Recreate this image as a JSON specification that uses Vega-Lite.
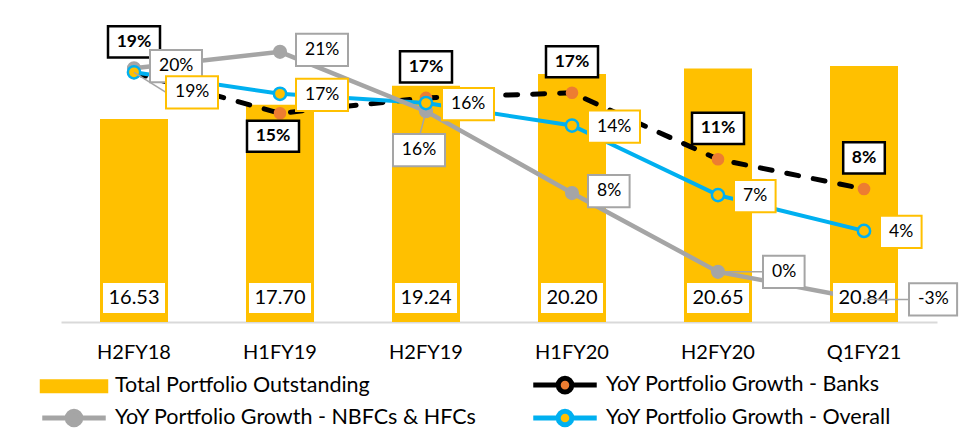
{
  "$schema": "https://vega.github.io/schema/vega-lite/v6.json",
  "width": 876,
  "height": 307,
  "autosize": {"type": "none"},
  "padding": {"left": 61, "top": 15, "right": 35, "bottom": 125},
  "background": "white",
  "config": {
    "view": {"stroke": null},
    "font": "Lato",
    "axisX": {"domainColor": "#D9D9D9", "domainWidth": 2, "ticks": false, "labelFontSize": 20, "labelFont": "Lato", "labelColor": "#000000", "labelPadding": 20, "labelAngle": 0, "title": null, "grid": false},
    "legend": {"orient": "none", "legendX": -1, "legendY": 356, "columns": 2, "columnPadding": 46, "rowPadding": -1, "labelOffset": 27, "labelLimit": 0, "labelFontSize": 21.5, "labelFont": "Lato", "labelColor": "#000000", "symbolSize": 514, "symbolStrokeWidth": 5, "padding": 0}
  },
  "datasets": {
    "bars": [
      {"period": "H2FY18", "total": 16.53, "label": "16.53"},
      {"period": "H1FY19", "total": 17.70, "label": "17.70"},
      {"period": "H2FY19", "total": 19.24, "label": "19.24"},
      {"period": "H1FY20", "total": 20.20, "label": "20.20"},
      {"period": "H2FY20", "total": 20.65, "label": "20.65"},
      {"period": "Q1FY21", "total": 20.84, "label": "20.84"}
    ],
    "growth": [
      {"period": "H2FY18", "series": "Banks", "value": 19.35, "label": "19%"},
      {"period": "H1FY19", "series": "Banks", "value": 15.4, "label": "15%"},
      {"period": "H2FY19", "series": "Banks", "value": 16.9, "label": "17%"},
      {"period": "H1FY20", "series": "Banks", "value": 17.4, "label": "17%"},
      {"period": "H2FY20", "series": "Banks", "value": 10.9, "label": "11%"},
      {"period": "Q1FY21", "series": "Banks", "value": 8.0, "label": "8%"},
      {"period": "H2FY18", "series": "NBFC", "value": 19.8, "label": "20%"},
      {"period": "H1FY19", "series": "NBFC", "value": 21.4, "label": "21%"},
      {"period": "H2FY19", "series": "NBFC", "value": 15.6, "label": "16%"},
      {"period": "H1FY20", "series": "NBFC", "value": 7.6, "label": "8%"},
      {"period": "H2FY20", "series": "NBFC", "value": -0.1, "label": "0%"},
      {"period": "Q1FY21", "series": "NBFC", "value": -2.8, "label": "-3%"},
      {"period": "H2FY18", "series": "Overall", "value": 19.4, "label": "19%"},
      {"period": "H1FY19", "series": "Overall", "value": 17.3, "label": "17%"},
      {"period": "H2FY19", "series": "Overall", "value": 16.4, "label": "16%"},
      {"period": "H1FY20", "series": "Overall", "value": 14.2, "label": "14%"},
      {"period": "H2FY20", "series": "Overall", "value": 7.4, "label": "7%"},
      {"period": "Q1FY21", "series": "Overall", "value": 3.9, "label": "4%"}
    ],
    "legendrows": [
      {"series": "Total Portfolio Outstanding"},
      {"series": "YoY Portfolio Growth - NBFCs & HFCs"},
      {"series": "YoY Portfolio Growth - Banks"},
      {"series": "YoY Portfolio Growth - Overall"}
    ]
  },
  "resolve": {"scale": {"y": "independent"}},
  "layer": [
    {
      "data": {"name": "bars"},
      "mark": {"type": "bar", "color": "#FFC000", "width": 68},
      "encoding": {
        "x": {"field": "period", "type": "nominal", "sort": null, "scale": {"type": "band", "domain": ["H2FY18", "H1FY19", "H2FY19", "H1FY20", "H2FY20", "Q1FY21"], "paddingInner": 0.1, "paddingOuter": 0.05}, "title": null},
        "y": {"field": "total", "type": "quantitative", "scale": {"domain": [0, 25]}, "axis": null}
      }
    },
    {
      "data": {"name": "growth"},
      "encoding": {
        "x": {"field": "period", "type": "nominal", "sort": null, "scale": {"type": "band", "domain": ["H2FY18", "H1FY19", "H2FY19", "H1FY20", "H2FY20", "Q1FY21"], "paddingInner": 0.1, "paddingOuter": 0.05}, "title": null},
        "y": {"field": "value", "type": "quantitative", "scale": {"domain": [-5, 25]}, "axis": null}
      },
      "layer": [
        {"transform": [{"filter": "datum.series=='Banks'"}], "mark": {"type": "line", "color": "#000000", "strokeWidth": 5, "strokeDash": [12, 15], "strokeCap": "round"}},
        {"transform": [{"filter": "datum.series=='Overall'"}], "mark": {"type": "line", "color": "#00B0F0", "strokeWidth": 4}},
        {"transform": [{"filter": "datum.series=='NBFC'"}], "mark": {"type": "line", "color": "#A5A5A5", "strokeWidth": 4.5}},
        {"transform": [{"filter": "datum.series=='Banks'"}], "mark": {"type": "point", "shape": "circle", "filled": true, "fill": "#ED7D31", "size": 160, "opacity": 1}},
        {"transform": [{"filter": "datum.series=='NBFC'"}], "mark": {"type": "point", "shape": "circle", "filled": true, "fill": "#A5A5A5", "size": 200, "opacity": 1}},
        {"transform": [{"filter": "datum.series=='Overall'"}], "mark": {"type": "point", "shape": "circle", "filled": true, "fill": "#FFC000", "stroke": "#00B0F0", "strokeWidth": 2.5, "size": 150, "opacity": 1}}
      ]
    },
    {
      "data": {"name": "bars"},
      "encoding": {
        "x": {"field": "period", "type": "nominal", "sort": null, "scale": {"type": "band", "domain": ["H2FY18", "H1FY19", "H2FY19", "H1FY20", "H2FY20", "Q1FY21"], "paddingInner": 0.1, "paddingOuter": 0.05}, "title": null},
        "y": {"datum": 0, "type": "quantitative", "scale": {"domain": [0, 25]}, "axis": null}
      },
      "layer": [
        {"mark": {"type": "point", "shape": "M-1,-0.48H1V0.48H-1Z", "size": 3844, "filled": true, "fill": "#FFFFFF", "opacity": 1, "yOffset": -24}},
        {"mark": {"type": "text", "fontSize": 20, "font": "Lato", "color": "#000000", "baseline": "middle", "align": "center", "yOffset": -24}, "encoding": {"text": {"field": "label"}}}
      ]
    },
    {
      "data": {"name": "growth"},
      "encoding": {
        "x": {"field": "period", "type": "nominal", "sort": null, "scale": {"type": "band", "domain": ["H2FY18", "H1FY19", "H2FY19", "H1FY20", "H2FY20", "Q1FY21"], "paddingInner": 0.1, "paddingOuter": 0.05}, "title": null},
        "y": {"field": "value", "type": "quantitative", "scale": {"domain": [-5, 25]}, "axis": null}
      },
      "layer": [
        {"transform": [{"filter": "datum.series=='Overall' && datum.period=='H2FY18'"}], "mark": {"type": "rule", "color": "#A5A5A5", "strokeWidth": 1.5, "x2Offset": 32, "y2Offset": 20}, "encoding": {"x2": {"field": "period"}, "y2": {"field": "value"}}},
        {"transform": [{"filter": "datum.series=='NBFC' && datum.period=='H2FY19'"}], "mark": {"type": "rule", "color": "#A5A5A5", "strokeWidth": 1.5, "x2Offset": -6, "y2Offset": 23}, "encoding": {"x2": {"field": "period"}, "y2": {"field": "value"}}},
        {"transform": [{"filter": "datum.series=='NBFC' && (datum.period=='H2FY20' || datum.period=='Q1FY21')"}], "mark": {"type": "rule", "color": "#A5A5A5", "strokeWidth": 1.5, "x2Offset": 45, "y2Offset": 0}, "encoding": {"x2": {"field": "period"}, "y2": {"field": "value"}}},

        {"transform": [{"filter": "datum.series=='Banks' && datum.period!='H1FY19'"}], "mark": {"type": "point", "size": 2704, "filled": true, "fill": "#FFFFFF", "stroke": "#000000", "strokeWidth": 2.5, "opacity": 1, "yOffset": -31}, "encoding": {"shape": {"condition": {"test": "length(datum.label) < 3", "value": "M-0.8,-0.6H0.8V0.6H-0.8Z"}, "value": "M-1,-0.6H1V0.6H-1Z"}}},
        {"transform": [{"filter": "datum.series=='Banks' && datum.period!='H1FY19'"}], "mark": {"type": "text", "fontSize": 17.5, "fontWeight": "bold", "font": "Lato", "color": "#000000", "baseline": "middle", "align": "center", "yOffset": -31}, "encoding": {"text": {"field": "label"}}},
        {"transform": [{"filter": "datum.series=='Banks' && datum.period=='H1FY19'"}], "mark": {"type": "point", "size": 2704, "filled": true, "fill": "#FFFFFF", "stroke": "#000000", "strokeWidth": 2.5, "opacity": 1, "xOffset": -7, "yOffset": 23, "shape": "M-1,-0.6H1V0.6H-1Z"}},
        {"transform": [{"filter": "datum.series=='Banks' && datum.period=='H1FY19'"}], "mark": {"type": "text", "fontSize": 17.5, "fontWeight": "bold", "font": "Lato", "color": "#000000", "baseline": "middle", "align": "center", "xOffset": -7, "yOffset": 23}, "encoding": {"text": {"field": "label"}}},

        {"transform": [{"filter": "datum.series=='NBFC' && (datum.period=='H2FY18' || datum.period=='H1FY19' || datum.period=='H1FY20')"}], "mark": {"type": "point", "size": 2704, "filled": true, "fill": "#FFFFFF", "stroke": "#A5A5A5", "strokeWidth": 2, "opacity": 1, "xOffset": 42, "yOffset": -2}, "encoding": {"shape": {"condition": {"test": "length(datum.label) < 3", "value": "M-1,-0.62H0.6V0.62H-1Z"}, "value": "M-1,-0.62H1V0.62H-1Z"}}},
        {"transform": [{"filter": "datum.series=='NBFC' && (datum.period=='H2FY18' || datum.period=='H1FY19' || datum.period=='H1FY20')"}], "mark": {"type": "text", "fontSize": 17.5, "font": "Lato", "color": "#000000", "baseline": "middle", "align": "left", "xOffset": 25, "yOffset": -2}, "encoding": {"text": {"field": "label"}}},
        {"transform": [{"filter": "datum.series=='NBFC' && datum.period=='H2FY19'"}], "mark": {"type": "point", "size": 2704, "filled": true, "fill": "#FFFFFF", "stroke": "#A5A5A5", "strokeWidth": 2, "opacity": 1, "xOffset": -7, "yOffset": 39, "shape": "M-1,-0.62H1V0.62H-1Z"}},
        {"transform": [{"filter": "datum.series=='NBFC' && datum.period=='H2FY19'"}], "mark": {"type": "text", "fontSize": 17.5, "font": "Lato", "color": "#000000", "baseline": "middle", "align": "center", "xOffset": -7, "yOffset": 39}, "encoding": {"text": {"field": "label"}}},
        {"transform": [{"filter": "datum.series=='NBFC' && (datum.period=='H2FY20' || datum.period=='Q1FY21')"}], "mark": {"type": "point", "size": 2704, "filled": true, "fill": "#FFFFFF", "stroke": "#A5A5A5", "strokeWidth": 2, "opacity": 1, "xOffset": 71, "yOffset": 0}, "encoding": {"shape": {"condition": {"test": "length(datum.label) < 3", "value": "M-1,-0.62H0.6V0.62H-1Z"}, "value": "M-1,-0.62H0.85V0.62H-1Z"}}},
        {"transform": [{"filter": "datum.series=='NBFC' && (datum.period=='H2FY20' || datum.period=='Q1FY21')"}], "mark": {"type": "text", "fontSize": 17.5, "font": "Lato", "color": "#000000", "baseline": "middle", "align": "left", "xOffset": 54, "yOffset": 0}, "encoding": {"text": {"field": "label"}}},

        {"transform": [{"filter": "datum.series=='Overall' && datum.period!='H2FY18'"}], "mark": {"type": "point", "size": 2704, "filled": true, "fill": "#FFFFFF", "stroke": "#FFC000", "strokeWidth": 2, "opacity": 1, "xOffset": 42, "yOffset": 1}, "encoding": {"shape": {"condition": {"test": "length(datum.label) < 3", "value": "M-1,-0.62H0.6V0.62H-1Z"}, "value": "M-1,-0.62H1V0.62H-1Z"}}},
        {"transform": [{"filter": "datum.series=='Overall' && datum.period!='H2FY18'"}], "mark": {"type": "text", "fontSize": 17.5, "font": "Lato", "color": "#000000", "baseline": "middle", "align": "left", "xOffset": 25, "yOffset": 1}, "encoding": {"text": {"field": "label"}}},
        {"transform": [{"filter": "datum.series=='Overall' && datum.period=='H2FY18'"}], "mark": {"type": "point", "size": 2704, "filled": true, "fill": "#FFFFFF", "stroke": "#FFC000", "strokeWidth": 2, "opacity": 1, "xOffset": 58, "yOffset": 20, "shape": "M-1,-0.62H1V0.62H-1Z"}},
        {"transform": [{"filter": "datum.series=='Overall' && datum.period=='H2FY18'"}], "mark": {"type": "text", "fontSize": 17.5, "font": "Lato", "color": "#000000", "baseline": "middle", "align": "left", "xOffset": 41, "yOffset": 20}, "encoding": {"text": {"field": "label"}}}
      ]
    },
    {
      "data": {"name": "legendrows"},
      "transform": [{"filter": "false"}],
      "mark": {"type": "point", "filled": true, "opacity": 1, "size": 514, "strokeWidth": 5},
      "encoding": {
        "fill": {"field": "series", "type": "nominal", "title": null, "scale": {"domain": ["Total Portfolio Outstanding", "YoY Portfolio Growth - NBFCs & HFCs", "YoY Portfolio Growth - Banks", "YoY Portfolio Growth - Overall"], "range": ["#FFC000", "#A5A5A5", "#ED7D31", "#FFC000"]}},
        "stroke": {"field": "series", "type": "nominal", "title": null, "scale": {"domain": ["Total Portfolio Outstanding", "YoY Portfolio Growth - NBFCs & HFCs", "YoY Portfolio Growth - Banks", "YoY Portfolio Growth - Overall"], "range": ["#FFC000", "#A5A5A5", "#000000", "#00B0F0"]}},
        "shape": {"field": "series", "type": "nominal", "title": null, "scale": {"domain": ["Total Portfolio Outstanding", "YoY Portfolio Growth - NBFCs & HFCs", "YoY Portfolio Growth - Banks", "YoY Portfolio Growth - Overall"], "range": ["M-2.8,-0.4H2.8V0.4H-2.8Z", "M-2.8,0H-0.6M0.6,0H2.8M0.6,0A0.6,0.6 0 1,1 -0.6,0A0.6,0.6 0 1,1 0.6,0", "M-2.8,0H-0.6M0.6,0H2.8M0.6,0A0.6,0.6 0 1,1 -0.6,0A0.6,0.6 0 1,1 0.6,0", "M-2.8,0H-0.6M0.6,0H2.8M0.6,0A0.6,0.6 0 1,1 -0.6,0A0.6,0.6 0 1,1 0.6,0"]}}
      }
    }
  ]
}
